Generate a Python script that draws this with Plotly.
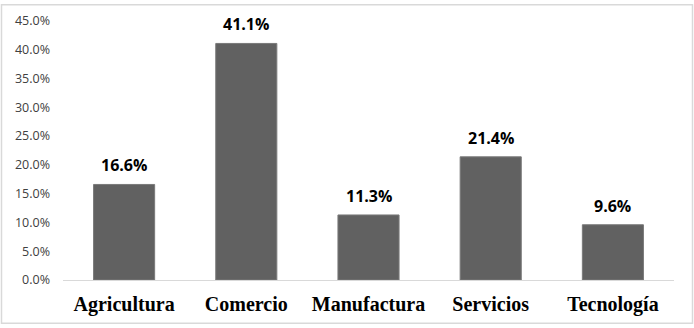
import plotly.graph_objects as go

categories = ["Agricultura", "Comercio", "Manufactura", "Servicios", "Tecnología"]
values = [16.6, 41.1, 11.3, 21.4, 9.6]
tick_vals = [0, 5, 10, 15, 20, 25, 30, 35, 40, 45]
tick_text = [f"{v:.1f}%" for v in tick_vals]

W, H = 694, 328
ml, mr, mt, mb = 63, 20, 18, 46
pw, ph = W - ml - mr, H - mt - mb

fig = go.Figure(go.Bar(
    x=categories, y=values,
    width=0.5,
    marker=dict(color="#616161", line=dict(color="#7a7a7a", width=1)),
    cliponaxis=False,
))

annotations = [dict(x=c, y=v, xref="x", yref="y", text=f"{v:.1f}%", showarrow=False,
                    yanchor="bottom", yshift=6,
                    font=dict(family="Open Sans, Noto Sans, sans-serif", size=16, color="#000000", weight="bold"))
               for c, v in zip(categories, values)]

fig.update_layout(
    width=W, height=H,
    margin=dict(l=ml, r=mr, t=mt, b=mb),
    paper_bgcolor="white", plot_bgcolor="white",
    showlegend=False,
    annotations=annotations,
    shapes=[dict(type="rect", xref="paper", yref="paper",
                 x0=(1.5 - ml) / pw, x1=(692.5 - ml) / pw,
                 y0=(H - mb - 326) / ph, y1=(H - mb - 1.5) / ph,
                 line=dict(color="#d9d9d9", width=1.5), fillcolor="rgba(0,0,0,0)",
                 layer="below")],
)
fig.update_yaxes(range=[0, 45], tickvals=tick_vals, ticktext=tick_text,
                 showgrid=False, zeroline=False, showline=False,
                 tickfont=dict(family="Open Sans, Noto Sans, sans-serif", size=12.5, color="#404040"),
                 ticks="", ticklabelstandoff=12)
fig.update_xaxes(showgrid=False, showline=True, linecolor="#d9d9d9", linewidth=1,
                 tickfont=dict(family="Liberation Serif, Times New Roman, serif", size=20, color="#000000", weight="bold"),
                 ticks="", ticklabelstandoff=6)
fig.write_html("out.html", config={"displayModeBar": False},
               post_script="document.body.style.margin='0';document.body.style.padding='0';")
